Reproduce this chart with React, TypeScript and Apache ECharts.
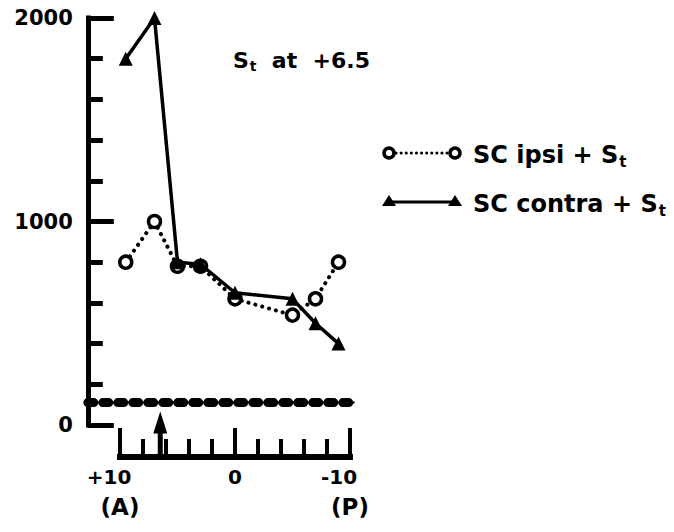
import React, { useEffect, useRef } from 'react';
import * as echarts from 'echarts';

// Electrode positions along the A–P axis (mm), +10 anterior … -10 posterior
const xPositions = [9.5, 7, 5, 3, 0, -5, -7, -9];
// SC ipsi + St (open circles, dotted)
const ipsiValues = [800, 1000, 780, 780, 620, 540, 620, 800];
// SC contra + St (filled triangles, solid)
const contraValues = [1800, 2000, 800, 790, 650, 620, 500, 400];
// baseline (dashed beaded line)
const baselineX = [12.8, -10.4];
const baselineLevel = [110, 110];
// stimulation site (arrow)
const stimulusSite = 6.5;
const yLabelTicks = [0, 1000, 2000];
const xTickLabels: Record<string, string> = { '10': '+10', '0': '0', '-10': '-10' };
const xSubLabels: Record<string, string> = { '10': '(A)', '-10': '(P)' };

const FONT = '"DejaVu Sans", "Liberation Sans", sans-serif';
const BLACK = '#000';

export default function App() {
  const ref = useRef<HTMLDivElement>(null);
  useEffect(() => {
    if (!ref.current) return;
    const chart = echarts.init(ref.current, undefined, { renderer: 'svg' });
    const ipsiData = xPositions.map((x, i) => [x, ipsiValues[i]]);
    const contraData = xPositions.map((x, i) => [x, contraValues[i]]);
    const baseData = baselineX.map((x, i) => [x, baselineLevel[i]]);

    const pxPerUnit = 11.5;
    const dataMin = -10.5;
    const dataMax = 12.8;

    chart.setOption({
      animation: false,
      backgroundColor: '#fff',
      grid: [
        // data grid: spans from the y axis to just past -10
        { left: 120 - (dataMax - 10) * pxPerUnit, width: (dataMax - dataMin) * pxPerUnit, top: 18, height: 407, containLabel: false },
        // axis grid: +10 … -10 only
        { left: 120, width: 20 * pxPerUnit, top: 18, height: 407, containLabel: false },
      ],
      xAxis: [
        {
          gridIndex: 0, type: 'value', min: dataMin, max: dataMax, inverse: true, show: false,
          axisLine: { onZero: false }, splitLine: { show: false },
        },
        {
          gridIndex: 1, type: 'value', min: -10, max: 10, interval: 2, inverse: true, position: 'bottom', offset: 32,
          axisLine: { show: true, onZero: false, lineStyle: { color: BLACK, width: 6, cap: 'square' } },
          axisTick: { show: true, inside: true, length: 18, lineStyle: { color: BLACK, width: 4 } },
          axisLabel: { show: false },
          splitLine: { show: false },
        },
        {
          gridIndex: 1, type: 'value', min: -10, max: 10, interval: 10, inverse: true, position: 'bottom', offset: 32,
          axisLine: { show: false, onZero: false },
          axisTick: { show: true, inside: true, length: 29, lineStyle: { color: BLACK, width: 4 } },
          axisLabel: {
            show: true,
            margin: 5,
            formatter: (v: number) => {
              const k = String(v);
              const main = xTickLabels[k] ?? '';
              const sub = xSubLabels[k];
              if (!sub) return `{n|${main}}`;
              return `{s|${main}}\n{p|${sub}}`;
            },
            rich: {
              n: { fontFamily: FONT, fontWeight: 'bold', fontSize: 20, color: BLACK, lineHeight: 30 },
              s: { fontFamily: FONT, fontWeight: 'bold', fontSize: 20, color: BLACK, lineHeight: 30, padding: [0, 22, 0, 0] },
              p: { fontFamily: FONT, fontWeight: 'bold', fontSize: 23, color: BLACK, lineHeight: 30 },
            },
          },
          splitLine: { show: false },
        },
      ],
      yAxis: [
        {
          gridIndex: 0, type: 'value', min: 0, max: 2000, interval: 200, position: 'left',
          axisLine: { show: true, onZero: false, lineStyle: { color: BLACK, width: 5, cap: 'square' } },
          axisTick: { show: true, inside: true, length: 15, lineStyle: { color: BLACK, width: 5 } },
          axisLabel: { show: false },
          splitLine: { show: false },
        },
        {
          gridIndex: 0, type: 'value', min: 0, max: 2000, interval: 1000, position: 'left',
          axisLine: { show: false, onZero: false },
          axisTick: { show: true, inside: true, length: 26, lineStyle: { color: BLACK, width: 5 } },
          axisLabel: {
            show: true, margin: 15, color: BLACK, fontFamily: FONT, fontWeight: 'bold', fontSize: 21,
            formatter: (v: number) => (yLabelTicks.includes(v) ? String(v) : ''),
          },
          splitLine: { show: false },
        },
        {
          gridIndex: 1, type: 'value', min: 0, max: 2000, show: false,
          axisLine: { onZero: false }, splitLine: { show: false },
        },
      ],
      series: [
        {
          name: 'baseline', type: 'line', xAxisIndex: 0, yAxisIndex: 0, data: baseData,
          symbol: 'none', silent: true,
          lineStyle: { color: BLACK, width: 2 },
        },
        {
          name: 'baseline beads', type: 'line', xAxisIndex: 0, yAxisIndex: 0, data: baseData,
          symbol: 'none', silent: true,
          lineStyle: { color: BLACK, width: 9, type: [6, 9], cap: 'round' },
        },
        {
          name: 'SC ipsi + St', type: 'line', xAxisIndex: 0, yAxisIndex: 0, data: ipsiData, z: 3,
          symbol: 'circle', symbolSize: 12,
          itemStyle: { color: '#fff', borderColor: BLACK, borderWidth: 3.5 },
          lineStyle: { color: BLACK, width: 4, type: [0.1, 7], cap: 'round' },
        },
        {
          name: 'SC contra + St', type: 'line', xAxisIndex: 0, yAxisIndex: 0, data: contraData, z: 4,
          symbol: 'triangle', symbolSize: 14,
          itemStyle: { color: BLACK },
          lineStyle: { color: BLACK, width: 3.5 },
        },
      ],
    });

    const tip = chart.convertToPixel({ xAxisIndex: 0, yAxisIndex: 0 }, [stimulusSite, baselineLevel[0]]) as number[];
    const zero = chart.convertToPixel({ xAxisIndex: 0, yAxisIndex: 0 }, [stimulusSite, 0]) as number[];
    const ax = tip[0];
    const tipY = tip[1] + 9;
    const barY = zero[1] + 32;

    const richTitle = {
      m: { fontFamily: FONT, fontWeight: 'bold', fontSize: 22, color: BLACK, lineHeight: 26, verticalAlign: 'bottom' },
      t: { fontFamily: FONT, fontWeight: 'bold', fontSize: 14, color: BLACK, lineHeight: 14, padding: [14, 0, 0, 1], verticalAlign: 'top' },
    };
    const richLegend = {
      m: { fontFamily: FONT, fontWeight: 'bold', fontSize: 24, color: BLACK, lineHeight: 28, verticalAlign: 'bottom' },
      t: { fontFamily: FONT, fontWeight: 'bold', fontSize: 15, color: BLACK, lineHeight: 15, padding: [15, 0, 0, 1], verticalAlign: 'top' },
    };
    const tri = (cx: number, cy: number) => ({
      type: 'polygon',
      shape: { points: [[cx, cy - 6], [cx - 7, cy + 5], [cx + 7, cy + 5]] },
      style: { fill: BLACK },
    });

    chart.setOption({
      graphic: [
        // stimulation arrow
        { type: 'rect', shape: { x: ax - 2.5, y: tipY + 18, width: 5, height: barY - tipY - 18 }, style: { fill: BLACK } },
        { type: 'polygon', shape: { points: [[ax, tipY], [ax - 7, tipY + 22], [ax + 7, tipY + 22]] }, style: { fill: BLACK } },
        // title
        { type: 'text', x: 233, y: 58, style: { text: '{m|S}{t|t}{m|  at  +6.5}', rich: richTitle, verticalAlign: 'middle', align: 'left' } },
        // legend row 1
        { type: 'line', shape: { x1: 396, y1: 153, x2: 448, y2: 153 }, style: { stroke: BLACK, lineWidth: 3, lineDash: [0.1, 5], lineCap: 'round' } },
        { type: 'circle', shape: { cx: 389, cy: 153, r: 5 }, style: { fill: '#fff', stroke: BLACK, lineWidth: 3.5 } },
        { type: 'circle', shape: { cx: 455, cy: 153, r: 5 }, style: { fill: '#fff', stroke: BLACK, lineWidth: 3.5 } },
        { type: 'text', x: 473, y: 153, style: { text: '{m|SC ipsi + S}{t|t}', rich: richLegend, verticalAlign: 'middle', align: 'left' } },
        // legend row 2
        { type: 'line', shape: { x1: 389, y1: 202, x2: 455, y2: 202 }, style: { stroke: BLACK, lineWidth: 3 } },
        tri(389, 201),
        tri(455, 201),
        { type: 'text', x: 473, y: 202, style: { text: '{m|SC contra + S}{t|t}', rich: richLegend, verticalAlign: 'middle', align: 'left' } },
      ],
    });

    return () => chart.dispose();
  }, []);
  return <div ref={ref} style={{ position: 'fixed', left: 0, top: 0, width: 674, height: 532 }} />;
}
